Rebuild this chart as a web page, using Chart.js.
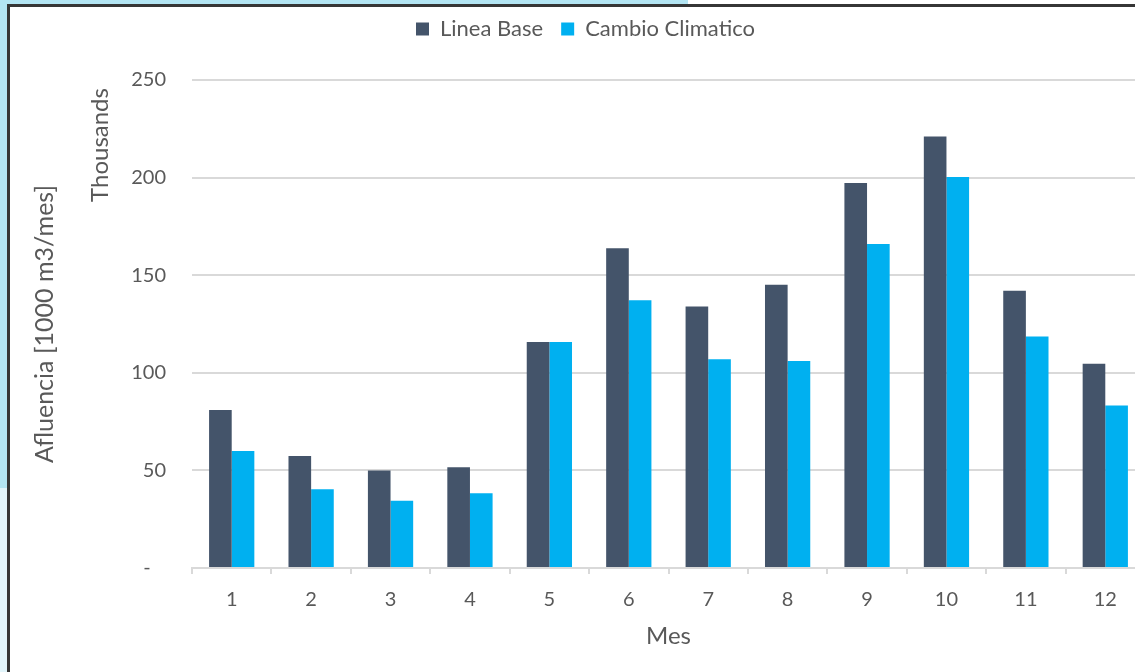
<!DOCTYPE html>
<html>
<head>
<meta charset="utf-8">
<script src="https://cdn.jsdelivr.net/npm/chart.js@4/dist/chart.umd.min.js"></script>
<style>
  html, body { margin: 0; padding: 0; width: 1135px; height: 672px; overflow: hidden; background: #ffffff; }
  .strip-top { position: absolute; left: 0; top: 0; width: 688px; height: 5px; background: #b3e5f3; }
  .strip-left { position: absolute; left: 0; top: 0; width: 7px; height: 488px; background: #b3e5f3; }
  .strip-left-low { position: absolute; left: 0; top: 488px; width: 7px; height: 184px; background: #e2f5fb; }
  .frame { position: absolute; left: 7px; top: 4px; width: 1200px; height: 665px; border: 3px solid #363636; border-right: none; background: #ffffff; }
  #wrap { position: absolute; left: 0; top: 0; width: 1170px; height: 672px; }
</style>
</head>
<body>
<div class="strip-top"></div>
<div class="strip-left"></div>
<div class="strip-left-low"></div>
<div class="frame"></div>
<div id="wrap"><canvas id="chart" width="1170" height="672"></canvas></div>
<script>
// Monthly inflow, in thousands of 1000 m3/mes
const months = ['1', '2', '3', '4', '5', '6', '7', '8', '9', '10', '11', '12'];
const lineaBase = [80.9, 57.4, 50.0, 51.6, 115.8, 163.8, 134.0, 145.1, 197.2, 221.1, 142.0, 104.7];
const cambioClimatico = [59.9, 40.3, 34.5, 38.3, 115.8, 137.2, 106.9, 106.1, 166.0, 200.3, 118.6, 83.2];
const yTicks = [0, 50, 100, 150, 200, 250];

const textColor = '#595959';
const gridColor = '#d9d9d9';
const fontFamily = 'Lato, "Open Sans", sans-serif';

// Display-units caption next to the value axis
const unitsLabel = {
  id: 'unitsLabel',
  afterDraw(chart) {
    const ctx = chart.ctx;
    ctx.save();
    ctx.translate(100, 145);
    ctx.rotate(-Math.PI / 2);
    ctx.font = '24px ' + fontFamily;
    ctx.fillStyle = textColor;
    ctx.textAlign = 'center';
    ctx.textBaseline = 'middle';
    ctx.fillText('Thousands', 0, 0);
    ctx.restore();
  }
};

// Reserve a fixed band above the plot for the legend
const legendBand = {
  id: 'legendBand',
  beforeLayout(chart) {
    const legend = chart.legend;
    if (legend && !legend._bandFit) {
      const fit = legend.fit;
      legend.fit = function () {
        fit.call(this);
        this.height = 80;
      };
      legend._bandFit = true;
    }
  }
};

new Chart(document.getElementById('chart'), {
  type: 'bar',
  data: {
    labels: months,
    datasets: [
      { label: 'Linea Base', data: lineaBase, backgroundColor: '#44546a',
        categoryPercentage: 0.57, barPercentage: 1.0 },
      { label: 'Cambio Climatico', data: cambioClimatico, backgroundColor: '#00b0f0',
        categoryPercentage: 0.57, barPercentage: 1.0 }
    ]
  },
  options: {
    responsive: false,
    animation: false,
    layout: { padding: { top: 0, right: 25, bottom: 0, left: 26 } },
    plugins: {
      legend: {
        position: 'top',
        labels: {
          boxWidth: 13, boxHeight: 13, padding: 18,
          color: textColor,
          font: { family: fontFamily, size: 22 }
        }
      },
      tooltip: { enabled: false }
    },
    scales: {
      x: {
        offset: true,
        grid: { offset: true, drawOnChartArea: false, drawTicks: true, tickLength: 6, color: gridColor, lineWidth: 2 },
        border: { display: true, color: gridColor, width: 2 },
        ticks: { color: textColor, font: { family: fontFamily, size: 20 }, padding: 14, maxRotation: 0 },
        title: { display: true, text: 'Mes', color: textColor, font: { family: fontFamily, size: 24 }, padding: { top: 0, bottom: 21 } },
        afterFit(scale) { scale.height = 104; }
      },
      y: {
        min: 0, max: 250,
        afterBuildTicks(scale) { scale.ticks = yTicks.map(v => ({ value: v })); },
        grid: { color: gridColor, lineWidth: 2, drawTicks: false },
        border: { display: false },
        ticks: {
          color: textColor, font: { family: fontFamily, size: 20 }, padding: 26,
          callback: v => v === 0 ? '-   ' : String(v)
        },
        title: { display: true, text: 'Afluencia [1000 m3/mes]', color: textColor, font: { family: fontFamily, size: 25 }, padding: { top: 4, bottom: 0 } },
        afterFit(scale) { scale.width = 166; }
      }
    }
  },
  plugins: [legendBand, unitsLabel]
});
</script>
</body>
</html>
